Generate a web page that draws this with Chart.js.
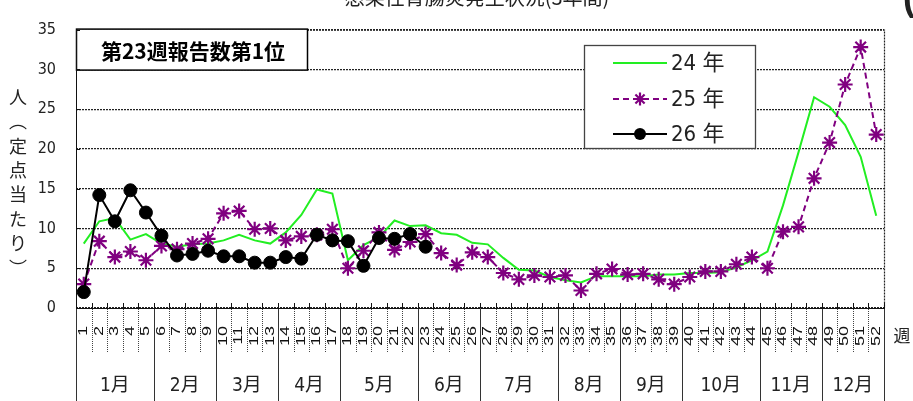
<!DOCTYPE html>
<html lang="ja">
<head>
<meta charset="utf-8">
<title>感染性胃腸炎発生状況(3年間)</title>
<script src="https://cdn.jsdelivr.net/npm/chart.js@4.4.1/dist/chart.umd.min.js"></script>
<style>
  html, body { margin: 0; padding: 0; background: #fff; }
  #wrap { width: 913px; height: 401px; position: relative; overflow: hidden; }
</style>
</head>
<body>
<div id="wrap"><canvas id="c" width="913" height="401"></canvas></div>
<script>
// 週番号
const weeks = ['1','2','3','4','5','6','7','8','9','10','11','12','13','14','15','16','17','18','19','20',
  '21','22','23','24','25','26','27','28','29','30','31','32','33','34','35','36','37','38','39','40',
  '41','42','43','44','45','46','47','48','49','50','51','52'];

// 月ラベルと各月の週数
const monthNames = ['1月','2月','3月','4月','5月','6月','7月','8月','9月','10月','11月','12月'];
const monthWeekCounts = [5, 4, 4, 4, 5, 4, 5, 4, 4, 5, 4, 4];

// 定点当たり報告数
const year24 = [8.1, 10.9, 11.3, 8.6, 9.3, 8.1, 7.7, 8.0, 8.1, 8.5, 9.2, 8.5, 8.1, 9.5, 11.7, 14.9, 14.4, 6.0, 7.9, 8.9,
  11.0, 10.3, 10.4, 9.4, 9.2, 8.2, 8.0, 6.3, 4.8, 4.7, 3.9, 3.5, 3.2, 4.0, 4.0, 4.0, 4.0, 4.2, 4.2, 4.4,
  4.4, 4.5, 5.1, 6.0, 7.1, 12.9, 19.6, 26.5, 25.3, 23.0, 19.0, 11.6];
const year25 = [3.0, 8.4, 6.4, 7.1, 6.0, 7.8, 7.4, 8.1, 8.7, 11.9, 12.2, 9.9, 10.0, 8.5, 9.0, 9.2, 9.9, 5.0, 7.2, 9.5,
  7.3, 8.3, 9.3, 6.9, 5.4, 7.0, 6.4, 4.4, 3.6, 4.1, 3.9, 4.1, 2.2, 4.3, 4.9, 4.2, 4.3, 3.6, 3.0, 3.9,
  4.6, 4.6, 5.5, 6.4, 5.0, 9.6, 10.2, 16.3, 20.8, 28.1, 32.8, 21.8];
const year26 = [2.0, 14.2, 10.9, 14.8, 12.0, 9.1, 6.6, 6.8, 7.2, 6.5, 6.5, 5.7, 5.7, 6.4, 6.2, 9.2, 8.5, 8.4, 5.3, 8.8,
  8.7, 9.3, 7.7];

const seriesLabels = ['24 年', '25 年', '26 年'];
const yTicks = [0, 5, 10, 15, 20, 25, 30, 35];

const chartTitle = '感染性胃腸炎発生状況(3年間)';
const noteText = '第23週報告数第1位';
const yAxisTitle = ['人', '︵', '定', '点', '当', 'た', 'り', '︶'];
const xAxisUnit = '週';

const NARROW = '"Liberation Sans Narrow", "DejaVu Sans Condensed", "Liberation Sans", "Noto Sans CJK JP", sans-serif';
const CJK = '"Noto Sans CJK JP", "Liberation Sans", sans-serif';

const GREEN = '#22ee22';
const PURPLE = '#800080';
const BLACK = '#000000';

const decorations = {
  id: 'decorations',
  afterDatasetsDraw(chart) {
    const ctx = chart.ctx;
    const area = chart.chartArea;
    ctx.save();

    // 上・右の枠線（点線）
    ctx.strokeStyle = '#222';
    ctx.lineWidth = 1.2;
    ctx.setLineDash([2, 1]);
    ctx.beginPath();
    ctx.moveTo(area.left, area.top + 0.5);
    ctx.lineTo(area.right + 0.5, area.top + 0.5);
    ctx.lineTo(area.right + 0.5, area.bottom);
    ctx.stroke();
    ctx.setLineDash([]);

    // 注記ボックス
    const bx = area.left + 0.5, by = area.top - 0.5, bw = 231, bh = 41;
    ctx.fillStyle = '#fff';
    ctx.fillRect(bx, by, bw, bh);
    ctx.strokeStyle = '#000';
    ctx.lineWidth = 1.5;
    ctx.strokeRect(bx, by, bw, bh);
    ctx.fillStyle = '#000';
    ctx.font = 'bold 21px ' + CJK;
    ctx.textAlign = 'center';
    ctx.textBaseline = 'middle';
    ctx.fillText(noteText, bx + bw / 2 + 1, by + bh / 2 + 1);

    // 凡例
    const lx = 584.5, ly = 45.5, lw = 171, lh = 103;
    ctx.fillStyle = '#fff';
    ctx.fillRect(lx, ly, lw, lh);
    ctx.strokeStyle = '#444';
    ctx.lineWidth = 1.3;
    ctx.strokeRect(lx, ly, lw, lh);
    const rows = [63, 99, 134];
    chart.data.datasets.forEach((ds, i) => {
      const ry = rows[i];
      const x1 = 613, x2 = 667, xm = (x1 + x2) / 2;
      ctx.save();
      ctx.strokeStyle = ds.borderColor;
      ctx.lineWidth = ds.borderWidth;
      ctx.setLineDash(ds.borderDash || []);
      ctx.beginPath();
      ctx.moveTo(x1, ry);
      ctx.lineTo(x2, ry);
      ctx.stroke();
      ctx.restore();
      if (ds.pointRadius > 0) {
        ctx.fillStyle = ds.pointBackgroundColor;
        ctx.strokeStyle = ds.pointBorderColor;
        ctx.lineWidth = ds.pointBorderWidth;
        ctx.beginPath();
        if (ds.pointStyle === 'circle') {
          ctx.arc(xm, ry, 6, 0, Math.PI * 2);
          ctx.fill();
        } else {
          const r = 6.5;
          for (let k = 0; k < 4; k++) {
            const a = k * Math.PI / 4;
            ctx.moveTo(xm - Math.cos(a) * r, ry - Math.sin(a) * r);
            ctx.lineTo(xm + Math.cos(a) * r, ry + Math.sin(a) * r);
          }
          ctx.stroke();
        }
      }
      ctx.fillStyle = '#222';
      ctx.font = '22px ' + NARROW;
      ctx.textAlign = 'left';
      ctx.textBaseline = 'middle';
      ctx.fillText(ds.label, 671, ry + 1);
    });
    ctx.restore();
  },
  afterDraw(chart) {
    const ctx = chart.ctx;
    const x = chart.scales.x, y = chart.scales.y;
    const area = chart.chartArea;
    const catW = x.getPixelForValue(1) - x.getPixelForValue(0);
    const x0 = x.getPixelForValue(0) - catW / 2;
    const H = chart.height;
    ctx.save();

    // 軸線
    ctx.strokeStyle = '#111';
    ctx.lineWidth = 1;
    ctx.beginPath();
    ctx.moveTo(Math.round(area.left) + 0.5, area.top);
    ctx.lineTo(Math.round(area.left) + 0.5, area.bottom);
    ctx.moveTo(area.left, Math.round(area.bottom) + 0.5);
    ctx.lineTo(area.right + 1, Math.round(area.bottom) + 0.5);
    ctx.stroke();

    // 目盛り（内向き）
    ctx.beginPath();
    yTicks.forEach(v => {
      const py = Math.round(y.getPixelForValue(v)) + 0.5;
      ctx.moveTo(area.left, py);
      ctx.lineTo(area.left + 4, py);
    });
    for (let i = 0; i <= weeks.length; i++) {
      const px = Math.round(x0 + i * catW) + 0.5;
      ctx.moveTo(px, area.bottom - 5);
      ctx.lineTo(px, area.bottom);
    }
    ctx.stroke();

    // 週の区切り線
    ctx.strokeStyle = '#444';
    ctx.setLineDash([1, 1]);
    ctx.beginPath();
    for (let i = 0; i <= weeks.length; i++) {
      const px = Math.round(x0 + i * catW) + 0.5;
      ctx.moveTo(px, area.bottom + 1);
      ctx.lineTo(px, area.bottom + 44);
    }
    ctx.stroke();

    // 月の区切り線
    ctx.strokeStyle = '#333';
    ctx.setLineDash([]);
    ctx.beginPath();
    let acc = 0;
    const bounds = [0];
    monthWeekCounts.forEach(n => { acc += n; bounds.push(acc); });
    bounds.forEach(b => {
      const px = Math.round(x0 + b * catW) + 0.5;
      ctx.moveTo(px, area.bottom + 1);
      ctx.lineTo(px, H);
    });
    ctx.stroke();

    // 週番号ラベル（縦書き回転）
    ctx.fillStyle = '#111';
    ctx.font = '12px "Liberation Sans", sans-serif';
    ctx.textAlign = 'right';
    ctx.textBaseline = 'middle';
    weeks.forEach((w, i) => {
      const px = x.getPixelForValue(i);
      ctx.save();
      ctx.translate(px, area.bottom + 18);
      ctx.rotate(-Math.PI / 2);
      ctx.scale(1.5, 1);
      ctx.fillText(w, 0, 0);
      ctx.restore();
    });

    // 月ラベル
    ctx.font = '19px ' + NARROW;
    ctx.textAlign = 'center';
    ctx.textBaseline = 'middle';
    ctx.fillStyle = '#222';
    monthNames.forEach((m, i) => {
      const cx = x0 + (bounds[i] + bounds[i + 1]) / 2 * catW;
      ctx.fillText(m, cx, 386);
    });

    // 横軸単位
    ctx.font = '17px ' + CJK;
    ctx.fillText(xAxisUnit, 902, 336);

    // 縦軸タイトル（縦書き）
    ctx.font = '18px ' + CJK;
    yAxisTitle.forEach((ch, i) => {
      ctx.fillText(ch, 18, 97 + i * 24.4);
    });

    // グラフタイトル
    ctx.font = '20px ' + CJK;
    ctx.textBaseline = 'alphabetic';
    ctx.fillText(chartTitle, 477, 5);

    // 右上の括弧
    ctx.font = 'bold 36px "Liberation Sans", sans-serif';
    ctx.textAlign = 'left';
    ctx.fillText('(', 903, 10);

    ctx.restore();
  }
};

new Chart(document.getElementById('c'), {
  type: 'line',
  data: {
    labels: weeks,
    datasets: [
      {
        label: seriesLabels[0],
        data: year24,
        borderColor: GREEN,
        backgroundColor: GREEN,
        borderWidth: 2,
        pointRadius: 0,
        tension: 0,
        order: 3
      },
      {
        label: seriesLabels[1],
        data: year25,
        borderColor: PURPLE,
        backgroundColor: PURPLE,
        borderWidth: 2,
        borderDash: [6, 4],
        pointStyle: 'star',
        pointRadius: 7.5,
        pointBorderWidth: 2.2,
        pointBorderColor: PURPLE,
        pointBackgroundColor: PURPLE,
        tension: 0,
        order: 2
      },
      {
        label: seriesLabels[2],
        data: year26,
        borderColor: BLACK,
        backgroundColor: BLACK,
        borderWidth: 2,
        pointStyle: 'circle',
        pointRadius: 6.5,
        pointBorderWidth: 1,
        pointBorderColor: BLACK,
        pointBackgroundColor: BLACK,
        tension: 0,
        order: 1
      }
    ]
  },
  options: {
    responsive: false,
    devicePixelRatio: 1,
    animation: false,
    layout: { padding: { top: 18, right: 29, left: 0, bottom: 0 } },
    plugins: {
      legend: { display: false },
      title: { display: false },
      tooltip: { enabled: false }
    },
    scales: {
      x: {
        type: 'category',
        offset: true,
        grid: { display: false, offset: true, drawTicks: false },
        border: { display: false },
        ticks: { display: false },
        afterFit(scale) { scale.height = 93; }
      },
      y: {
        min: 0,
        max: 35,
        afterBuildTicks(scale) { scale.ticks = yTicks.map(v => ({ value: v })); },
        ticks: {
          padding: 20,
          color: '#222',
          font: { family: NARROW, size: 16 }
        },
        grid: { color: '#222', lineWidth: 1.2, drawTicks: false },
        border: { display: false, dash: [2, 1] },
        afterFit(scale) { scale.width = 76; }
      }
    }
  },
  plugins: [decorations]
});
</script>
</body>
</html>
